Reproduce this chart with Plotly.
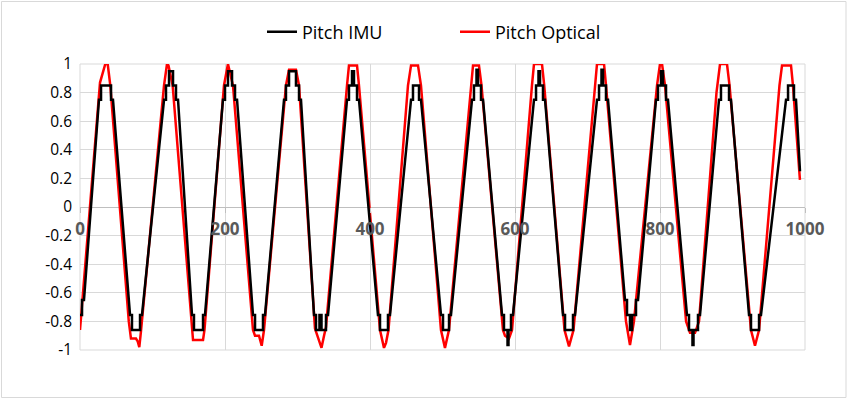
import plotly.graph_objects as go

# ---- data (x = sample index, y = pitch) ----
imu_x = [0, 2.8, 2.8, 5.5,
         26.2, 29.0, 29.0, 42.8, 42.8, 45.5,
         69.0, 71.7, 71.7, 82.8, 82.8, 85.5,
         115.9, 118.6, 118.6, 122.8, 122.8, 128.3, 128.3, 132.4, 132.4, 135.2,
         154.5, 157.2, 157.2, 169.7, 169.7, 172.4,
         197.2, 200.0, 200.0, 204.1, 204.1, 209.7, 209.7, 213.8, 213.8, 216.6,
         238.6, 241.4, 241.4, 252.4, 252.4, 255.2,
         281.4, 284.1, 284.1, 288.3, 288.3, 297.9, 297.9, 302.1, 302.1, 304.8,
         322.8, 325.5, 325.5, 330.3, 330.3, 333.1, 333.1, 339.3, 339.3, 342.1,
         368.3, 371.0, 371.0, 375.2, 375.2, 377.9, 377.9, 382.1, 382.1, 384.8,
         411.0, 413.8, 413.8, 424.8, 424.8, 427.6,
         456.6, 459.3, 459.3, 467.6, 467.6, 470.3,
         497.9, 500.7, 500.7, 509.0, 509.0, 511.7,
         540.7, 543.4, 543.4, 546.9, 546.9, 549.0, 549.0, 553.1, 553.1, 555.9,
         582.1, 584.8, 584.8, 589.7, 589.7, 591.0, 591.0, 594.5, 594.5, 597.2,
         626.2, 629.0, 629.0, 632.4, 632.4, 634.5, 634.5, 638.6, 638.6, 641.4,
         666.2, 669.0, 669.0, 680.0, 680.0, 682.8,
         713.1, 715.9, 715.9, 719.3, 719.3, 721.4, 721.4, 725.5, 725.5, 728.3,
         751.7, 754.5, 754.5, 758.6, 758.6, 761.4, 761.4, 766.9, 766.9, 769.7,
         794.5, 797.2, 797.2, 801.4, 801.4, 804.1, 804.1, 808.3, 808.3, 811.0,
         837.2, 840.0, 840.0, 844.8, 844.8, 846.2, 846.2, 852.4, 852.4, 855.2,
         881.4, 884.1, 884.1, 895.2, 895.2, 897.9,
         922.8, 925.5, 925.5, 936.6, 936.6, 939.3,
         973.8, 976.6, 976.6, 984.8, 984.8, 987.6,
         993.1]
imu_y = [-0.755, -0.755, -0.65, -0.65,
         0.75, 0.75, 0.85, 0.85, 0.75, 0.75,
         -0.755, -0.755, -0.86, -0.86, -0.755, -0.755,
         0.75, 0.75, 0.85, 0.85, 0.95, 0.95, 0.85, 0.85, 0.75, 0.75,
         -0.755, -0.755, -0.86, -0.86, -0.755, -0.755,
         0.75, 0.75, 0.85, 0.85, 0.95, 0.95, 0.85, 0.85, 0.75, 0.75,
         -0.755, -0.755, -0.86, -0.86, -0.755, -0.755,
         0.75, 0.75, 0.85, 0.85, 0.95, 0.95, 0.85, 0.85, 0.75, 0.75,
         -0.755, -0.755, -0.86, -0.86, -0.755, -0.755, -0.86, -0.86, -0.755, -0.755,
         0.75, 0.75, 0.85, 0.85, 0.95, 0.95, 0.85, 0.85, 0.75, 0.75,
         -0.755, -0.755, -0.86, -0.86, -0.755, -0.755,
         0.75, 0.75, 0.85, 0.85, 0.75, 0.75,
         -0.755, -0.755, -0.86, -0.86, -0.755, -0.755,
         0.75, 0.75, 0.85, 0.85, 0.96, 0.96, 0.85, 0.85, 0.75, 0.75,
         -0.755, -0.755, -0.86, -0.86, -0.965, -0.965, -0.86, -0.86, -0.755, -0.755,
         0.75, 0.75, 0.85, 0.85, 0.95, 0.95, 0.85, 0.85, 0.75, 0.75,
         -0.755, -0.755, -0.86, -0.86, -0.755, -0.755,
         0.75, 0.75, 0.85, 0.85, 0.96, 0.96, 0.85, 0.85, 0.75, 0.75,
         -0.65, -0.65, -0.755, -0.755, -0.86, -0.86, -0.755, -0.755, -0.65, -0.65,
         0.75, 0.75, 0.85, 0.85, 0.95, 0.95, 0.85, 0.85, 0.75, 0.75,
         -0.755, -0.755, -0.86, -0.86, -0.965, -0.965, -0.86, -0.86, -0.755, -0.755,
         0.75, 0.75, 0.85, 0.85, 0.75, 0.75,
         -0.755, -0.755, -0.86, -0.86, -0.755, -0.755,
         0.75, 0.75, 0.85, 0.85, 0.75, 0.75,
         0.25]

opt_x = [0,
         27.6, 34.9, 38.2, 41.8,
         67.3, 70.3, 77.2, 79.6, 81.8, 84.1,
         115.9, 120.0, 122.0, 127.8,
         154.5, 155.9, 169.7, 171.7,
         198.6, 204.1, 211.0,
         238.6, 241.4, 246.9, 250.6, 253.8,
         284.1, 288.3, 297.9, 302.1,
         324.1, 329.7, 333.1, 336.6, 339.3,
         368.3, 371.0, 382.1, 384.8,
         413.8, 417.2, 419.3, 422.1, 425.5,
         452.4, 456.6, 466.2, 470.3,
         497.9, 503.4, 508.9,
         539.3, 542.1, 550.3, 553.8,
         583.4, 586.2, 591.7, 595.9,
         623.4, 626.2, 637.2, 640.3,
         668.3, 674.5, 680.7,
         710.3, 713.1, 722.8, 725.5,
         753.1, 758.6, 764.1,
         795.9, 800.0, 802.8, 806.9,
         836.0, 841.4, 848.3, 853.8,
         877.9, 882.8, 892.4, 895.9,
         925.5, 931.0, 936.6,
         964.8, 968.3, 980.7, 983.4,
         993.0]
opt_y = [-0.86,
         0.87, 1.0, 1.0, 0.85,
         -0.8, -0.92, -0.92, -0.94, -0.98, -0.87,
         0.85, 1.0, 0.99, 0.85,
         -0.86, -0.93, -0.93, -0.86,
         0.85, 1.0, 0.85,
         -0.86, -0.9, -0.9, -0.97, -0.86,
         0.85, 0.96, 0.96, 0.85,
         -0.85, -0.93, -0.985, -0.9, -0.84,
         0.85, 0.99, 0.99, 0.85,
         -0.86, -0.95, -0.985, -0.95, -0.86,
         0.85, 0.99, 0.99, 0.85,
         -0.86, -0.985, -0.86,
         0.85, 0.99, 0.99, 0.85,
         -0.86, -0.9, -0.92, -0.86,
         0.85, 1.0, 1.0, 0.85,
         -0.86, -0.975, -0.86,
         0.85, 1.0, 1.0, 0.85,
         -0.8, -0.965, -0.8,
         0.85, 1.0, 1.0, 0.85,
         -0.8, -0.88, -0.88, -0.8,
         0.8, 1.0, 1.0, 0.85,
         -0.86, -0.97, -0.86,
         0.85, 0.99, 0.99, 0.85,
         0.19]

x_ticks = [0, 200, 400, 600, 800, 1000]
y_ticks = [1, 0.8, 0.6, 0.4, 0.2, 0, -0.2, -0.4, -0.6, -0.8, -1]
y_labels = ["1", "0.8", "0.6", "0.4", "0.2", "0", "-0.2", "-0.4", "-0.6", "-0.8", "-1"]

FONT = "Open Sans, DejaVu Sans, sans-serif"

fig = go.Figure()
fig.add_trace(go.Scatter(x=opt_x, y=opt_y, mode="lines", name="Pitch Optical",
                         line=dict(color="#ff0000", width=2.5), legendrank=2))
fig.add_trace(go.Scatter(x=imu_x, y=imu_y, mode="lines", name="Pitch IMU",
                         line=dict(color="#000000", width=2.5), legendrank=1))

W, H = 850, 399
L, R, T, B = 80, 45, 64, 49
pw, ph = W - L - R, H - T - B

def px_x(p):
    return (p - L) / pw

def px_y(p):
    return (H - B - p) / ph

fig.update_layout(
    width=W, height=H,
    margin=dict(l=L, r=R, t=T, b=B),
    paper_bgcolor="white", plot_bgcolor="white",
    font=dict(family=FONT, color="#000000"),
    showlegend=True,
    legend=dict(orientation="h", x=px_x(455), xanchor="center", y=px_y(32), yanchor="middle",
                font=dict(size=18, family=FONT, color="#000000"),
                entrywidth=148, bgcolor="rgba(0,0,0,0)"),
    xaxis=dict(range=[0, 1000], tickvals=x_ticks, ticktext=[str(v) for v in x_ticks],
               showgrid=True, gridcolor="#d9d9d9", gridwidth=1,
               zeroline=False, showline=False,
               anchor="free", position=0.5,
               ticks="outside", ticklen=5, tickcolor="#bfbfbf",
               ticklabelstandoff=2,
               tickfont=dict(size=17, family=FONT, color="#595959", weight="bold")),
    yaxis=dict(range=[-1, 1], tickvals=y_ticks, ticktext=y_labels,
               showgrid=True, gridcolor="#d9d9d9", gridwidth=1,
               zeroline=True, zerolinecolor="#bfbfbf", zerolinewidth=1,
               showline=False, ticks="", ticklabelstandoff=7,
               tickfont=dict(size=15.5, family=FONT, color="#000000")),
    shapes=[
        dict(type="rect", xref="paper", yref="paper", x0=0, x1=1, y0=0, y1=1,
             line=dict(color="#d9d9d9", width=1), layer="below"),
        dict(type="rect", xref="paper", yref="paper",
             x0=px_x(1.5), x1=px_x(846), y0=px_y(397.5), y1=px_y(1.5),
             line=dict(color="#d9d9d9", width=1), layer="below"),
    ],
)

fig.write_html("out.html", config={"displayModeBar": False},
               post_script="document.body.style.margin='0px';document.body.style.padding='0px';")
